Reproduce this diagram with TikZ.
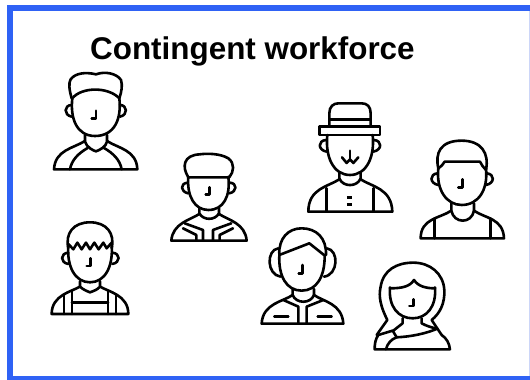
\documentclass[tikz,border=0pt]{standalone}
\usepackage{fontspec}
\setmainfont{Liberation Sans}
\definecolor{frameblue}{HTML}{2F62F5}
\definecolor{framepale}{HTML}{CCD6F8}
\tikzset{
 icon/.style={draw=black,line width=2.6pt,line join=round,line cap=round},
 zoomone/.style={shift={(40,60)},x=0.3333pt,y=-0.3333pt},
 zoomtwo/.style={shift={(250,90)},x=0.3333pt,y=-0.3333pt}
}
\begin{document}
\begin{tikzpicture}[x=1pt,y=-1pt]
\useasboundingbox (0,0) rectangle (530,380);
\fill[white] (0,0) rectangle (530,380);
\fill[frameblue] (7,5) rectangle (530,11);
\fill[frameblue] (7,5) rectangle (13,380);
\fill[frameblue] (7,376) rectangle (530,380);
\fill[framepale] (528.5,11) rectangle (530,376);
\node[anchor=base west,inner sep=0pt,font=\bfseries\fontsize{31.4}{34}\selectfont] (title) at (90,59) {Contingent workforce};
\begin{scope}[zoomone]
% man 1
\draw[icon] (95,115) .. controls (88,90) and (85,70) .. (92,58) .. controls (105,40) and (135,35) .. (168,43) .. controls (195,33) and (230,40) .. (243,60) .. controls (248,75) and (245,95) .. (238,115);
\draw[icon] (97,115) .. controls (125,80) and (205,80) .. (238,115) .. controls (245,175) and (225,228) .. (165,228) .. controls (110,228) and (90,175) .. (97,115) -- cycle;
\draw[icon] (95,135) .. controls (72,135) and (70,165) .. (95,170);
\draw[icon] (240,135) .. controls (262,135) and (265,165) .. (240,170);
\draw[icon] (168,152) -- (168,176) -- (155,176);
\draw[icon] (135,225) -- (135,245) .. controls (140,262) and (160,272) .. (168,274) .. controls (180,270) and (198,260) .. (201,245) -- (201,225);
\draw[icon] (135,243) .. controls (100,265) and (45,270) .. (42,328) -- (292,328) .. controls (290,270) and (235,265) .. (201,243);
\draw[icon] (90,328) .. controls (95,300) and (115,280) .. (143,264);
\draw[icon] (245,328) .. controls (240,300) and (220,280) .. (192,264);
% man 2
\draw[icon] (445,352) .. controls (425,320) and (430,285) .. (480,283) .. controls (500,280) and (540,280) .. (565,295) .. controls (585,310) and (582,335) .. (568,352) -- cycle;
\draw[icon] (445,350) .. controls (440,410) and (465,450) .. (505,450) .. controls (550,450) and (572,410) .. (565,350);
\draw[icon] (443,368) .. controls (420,370) and (420,395) .. (445,400);
\draw[icon] (570,368) .. controls (592,370) and (592,395) .. (568,400);
\draw[icon] (508,382) -- (508,404) -- (497,404);
\draw[icon] (478,444) -- (478,460) .. controls (490,482) and (525,482) .. (537,460) -- (537,444);
\draw[icon] (478,462) .. controls (450,480) and (398,490) .. (394,542) -- (620,542) .. controls (616,490) and (565,480) .. (537,462);
\draw[icon] (429,505) -- (469,525) -- (469,542);
\draw[icon] (434,490) -- (489,510) -- (489,542);
\draw[icon] (519,542) -- (519,510) -- (574,490);
\draw[icon] (539,542) -- (539,525) -- (579,505);
% man 3
\draw[icon] (85,565) .. controls (75,520) and (100,487) .. (150,487) .. controls (200,487) and (225,520) .. (215,565);
\draw[icon] (85,552) -- (100,568) -- (112,548) -- (125,568) -- (138,548) -- (150,568) -- (163,548) -- (176,568) -- (190,548) -- (200,565) -- (215,548);
\draw[icon] (85,555) .. controls (80,620) and (105,667) .. (150,667) .. controls (195,667) and (220,620) .. (215,555);
\draw[icon] (85,578) .. controls (60,580) and (60,608) .. (85,612);
\draw[icon] (217,578) .. controls (242,580) and (242,608) .. (217,612);
\draw[icon] (152,595) -- (152,618) -- (140,618);
\draw[icon] (120,664) -- (120,680) .. controls (130,690) and (145,695) .. (150,697) .. controls (160,693) and (172,690) .. (180,680) -- (180,664);
\draw[icon] (120,680) .. controls (95,695) and (35,705) .. (35,762) -- (265,762) .. controls (265,705) and (205,695) .. (180,680);
\draw[icon] (72,703) -- (72,762);
\draw[icon] (96,692) -- (96,762);
\draw[icon] (204,692) -- (204,762);
\draw[icon] (228,703) -- (228,762);
\draw[icon] (96,728) -- (204,728);
\end{scope}
\begin{scope}[zoomtwo]
% hat man
\draw[icon] (238,108) -- (238,70) .. controls (238,50) and (250,40) .. (265,40) -- (335,40) .. controls (352,40) and (362,50) .. (362,70) -- (362,108);
\draw[icon] (238,88) -- (362,88);
\draw[icon] (208,110) rectangle (390,135);
\draw[icon] (232,135) .. controls (225,200) and (250,255) .. (300,255) .. controls (350,255) and (375,200) .. (368,135);
\draw[icon] (228,150) .. controls (203,152) and (203,180) .. (230,185);
\draw[icon] (372,150) .. controls (397,152) and (397,180) .. (370,185);
\draw[icon] (300,182) -- (300,208);
\draw[icon] (276,202) -- (290,219) -- (300,208) -- (310,219) -- (325,202);
\draw[icon] (268,250) -- (268,265) .. controls (278,292) and (322,292) .. (332,265) -- (332,250);
\draw[icon] (268,268) .. controls (235,290) and (175,295) .. (175,365) -- (427,365) .. controls (425,295) and (365,290) .. (332,268);
\draw[icon] (229,295) -- (229,365);
\draw[icon] (371,295) -- (371,365);
\draw[icon,line cap=butt] (291,322) -- (307,322) (291,344) -- (307,344);
% right man
\draw[icon] (565,235) .. controls (555,190) and (570,152) .. (635,152) .. controls (695,152) and (718,190) .. (708,240);
\draw[icon] (565,235) .. controls (575,228) and (580,222) .. (584,215) -- (690,215) .. controls (695,225) and (700,232) .. (708,240);
\draw[icon] (565,235) .. controls (558,300) and (590,345) .. (635,345) .. controls (685,345) and (715,300) .. (708,235);
\draw[icon] (563,250) .. controls (538,252) and (538,280) .. (565,285);
\draw[icon] (710,250) .. controls (735,252) and (735,280) .. (708,285);
\draw[icon] (637,268) -- (637,292) -- (625,292);
\draw[icon] (604,340) -- (604,362) .. controls (612,402) and (665,402) .. (672,362) -- (672,340);
\draw[icon] (604,362) .. controls (570,385) and (512,385) .. (512,445) -- (762,445) .. controls (760,385) and (705,385) .. (672,362);
\draw[icon] (554,385) -- (554,445);
\draw[icon] (722,385) -- (722,445);
% headset man
\draw[icon] (88,495) .. controls (85,445) and (115,415) .. (155,415) .. controls (200,415) and (230,445) .. (228,495);
\draw[icon] (88,495) -- (178,460) -- (222,495);
\draw[icon] (88,495) .. controls (85,560) and (110,602) .. (155,602) .. controls (200,602) and (225,560) .. (224,495);
\draw[icon] (85,475) .. controls (48,480) and (50,555) .. (92,560);
\draw[icon] (230,475) .. controls (268,480) and (265,555) .. (222,560);
\draw[icon] (158,525) -- (158,550) -- (146,550);
\draw[icon] (128,597) -- (128,615) .. controls (138,642) and (182,642) .. (192,615) -- (192,597);
\draw[icon] (128,615) .. controls (100,635) and (38,640) .. (35,701) -- (280,701) .. controls (276,640) and (220,635) .. (192,615);
\draw[icon] (100,630) -- (145,650) -- (145,701);
\draw[icon] (220,630) -- (170,650) -- (170,701);
\draw[icon] (73,680) -- (115,680);
\draw[icon] (203,680) -- (245,680);
% woman
\draw[icon] (380,735) -- (412,690) .. controls (392,650) and (385,620) .. (392,590) .. controls (400,540) and (440,518) .. (490,518) .. controls (540,518) and (580,550) .. (583,600) .. controls (585,640) and (570,670) .. (545,690) -- (575,735);
\draw[icon] (420,595) .. controls (455,595) and (480,590) .. (492,570) .. controls (505,590) and (530,595) .. (555,595);
\draw[icon] (420,592) .. controls (415,650) and (445,685) .. (488,685) .. controls (530,685) and (560,650) .. (555,592);
\draw[icon] (490,628) -- (490,648) -- (478,648);
\draw[icon] (458,685) -- (458,700) -- (430,722);
\draw[icon] (515,685) -- (515,700) .. controls (530,708) and (545,713) .. (562,716);
\draw[icon] (385,735) .. controls (376,748) and (374,762) .. (374,778) -- (600,778) .. controls (598,760) and (590,745) .. (575,735);
\draw[icon] (385,735) -- (428,722) -- (440,742);
\draw[icon] (408,778) .. controls (412,760) and (425,747) .. (440,742) .. controls (485,740) and (530,730) .. (562,716);
\end{scope}
\end{tikzpicture}
\end{document}
